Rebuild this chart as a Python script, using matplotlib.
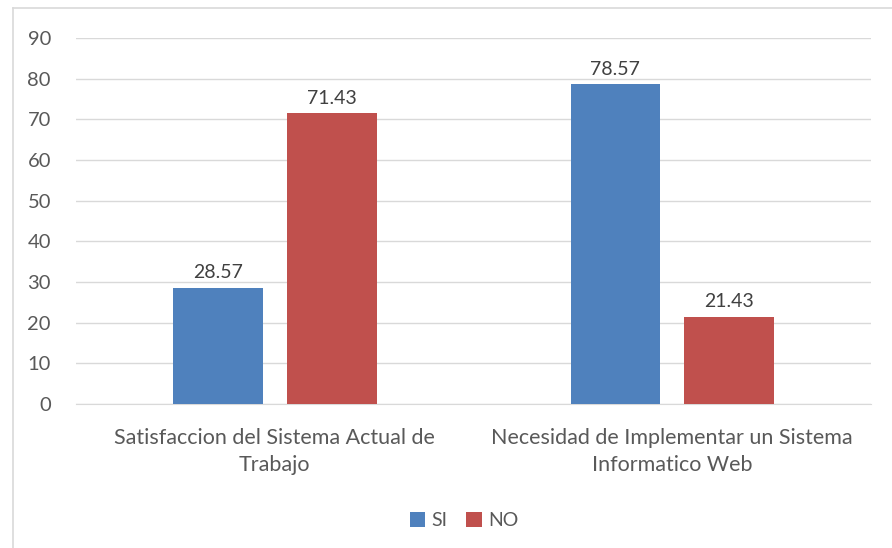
import matplotlib.pyplot as plt
import numpy as np
from matplotlib.lines import Line2D

plt.rcParams['font.family'] = ['Lato', 'DejaVu Sans']

categories = ["Satisfaccion del Sistema Actual de\nTrabajo",
              "Necesidad de Implementar un Sistema\nInformatico Web"]
series = ["SI", "NO"]
si_values = [28.57, 78.57]
no_values = [71.43, 21.43]
colors = ["#4F81BD", "#C0504D"]

fig = plt.figure(figsize=(8.92, 5.48), dpi=100)
ax = fig.add_axes([0.0852, 0.2628, 0.8913, 0.6679])

x = np.arange(len(categories))
w = 0.226
gap = 0.06
b1 = ax.bar(x - (w + gap) / 2, si_values, w, color=colors[0], label=series[0], zorder=3)
b2 = ax.bar(x + (w + gap) / 2, no_values, w, color=colors[1], label=series[1], zorder=3)

for bars in (b1, b2):
    for rect in bars:
        h = rect.get_height()
        ax.annotate(f"{h:.2f}", (rect.get_x() + rect.get_width() / 2, h),
                    xytext=(0, 5), textcoords="offset points",
                    ha="center", va="bottom", fontsize=14, color="#404040")

ax.set_xlim(-0.5, 1.5)
ax.set_ylim(0, 90)
ax.set_yticks(range(0, 91, 10))
ax.set_xticks(x)
ax.set_xticklabels(categories, fontsize=15.5, color="#595959", linespacing=1.45)
ax.tick_params(axis="y", labelsize=14.5, colors="#595959", length=0, pad=18)
ax.tick_params(axis="x", length=0, pad=17)
ax.grid(axis="y", color="#D9D9D9", linewidth=1, zorder=0)
for s in ["top", "right", "left"]:
    ax.spines[s].set_visible(False)
ax.spines["bottom"].set_color("#D9D9D9")

leg = fig.legend(handles=[b1, b2], labels=series, loc="center", bbox_to_anchor=(0.52, 0.05),
                 ncol=2, frameon=False, fontsize=14, handlelength=0.8, handleheight=0.8,
                 handletextpad=0.3, columnspacing=1.0)
for t in leg.get_texts():
    t.set_color("#595959")

# outer chart frame
fig.add_artist(Line2D([12.5 / 892, 12.5 / 892], [0, 1 - 8 / 548], color="#D9D9D9", lw=1.2))
fig.add_artist(Line2D([12.5 / 892, 1], [1 - 8 / 548, 1 - 8 / 548], color="#D9D9D9", lw=1.2))

fig.savefig("out.png", dpi=100)
